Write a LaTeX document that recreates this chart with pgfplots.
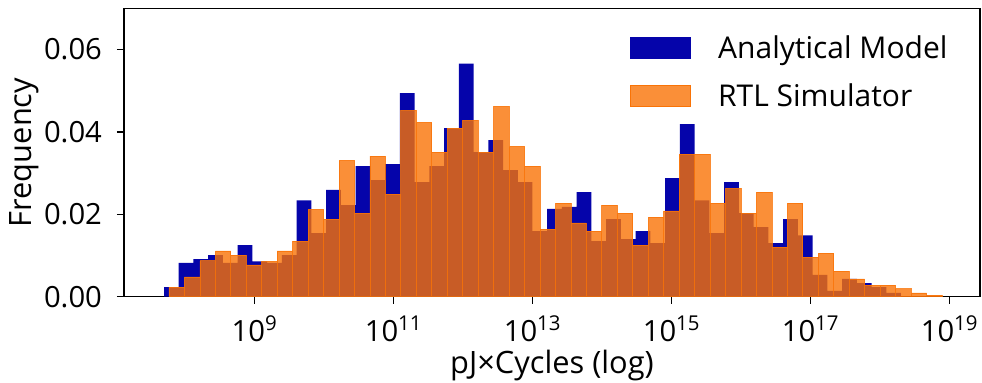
\documentclass[border=0pt]{standalone}
\usepackage{pgfplots}
\pgfplotsset{compat=1.18}
\usepackage{fontspec}
\setmainfont{Open Sans}
\definecolor{blu}{HTML}{0504AA}
\definecolor{orng}{HTML}{F97306}
\begin{document}
\begin{tikzpicture}
\path[use as bounding box] (-62pt,-43.15pt) rectangle (429pt,148.35pt);
\begin{axis}[
  at={(0pt,0pt)}, anchor=south west,
  width=428pt, height=144.2pt, scale only axis,
  xmin=7.1194, xmax=19.436, ymin=0, ymax=0.07,
  axis line style={line width=0.7pt},
  tick align=outside, major tick length=3.5pt,
  tick style={line width=0.7pt, black},
  xtick pos=left, ytick pos=left,
  xtick={9,11,13,15,17,19},
  xticklabels={10\textsuperscript{9},10\textsuperscript{11},10\textsuperscript{13},10\textsuperscript{15},10\textsuperscript{17},10\textsuperscript{19}},
  ytick={0,0.02,0.04,0.06},
  scaled y ticks=false,
  /pgf/number format/assume math mode=true,
  yticklabel style={/pgf/number format/.cd, fixed, fixed zerofill, precision=2, /tikz/.cd, anchor=east, inner sep=0pt, xshift=-7.35pt},
  xticklabel style={anchor=base, inner sep=0pt, yshift=-18.8pt},
  ticklabel style={font=\fontsize{14.6}{17}\selectfont},
  xlabel={pJ×Cycles (log)},
  ylabel={Frequency},
  xlabel style={at={(axis description cs:0.5,0)}, anchor=base, yshift=-38.2pt, font=\fontsize{15.4}{18}\selectfont},
  ylabel style={at={(axis description cs:-0.1075,0.5)}, anchor=base, rotate=0, font=\fontsize{15.4}{18}\selectfont},
  legend style={draw=none, fill=none, at={(0.5911,0.9012)}, anchor=north west, inner sep=0pt, row sep=12.8pt, column sep=13.5pt, font=\fontsize{15}{18}\selectfont, nodes={inner sep=0pt, text height=10.7pt, text depth=0pt}},
  legend cell align=left,
]
\addplot[ybar interval, fill=blu, draw=none, forget plot] coordinates {
(7.6950,0.0023) (7.9071,0.0082) (8.1191,0.0091) (8.3312,0.0101) (8.5433,0.0082)
(8.7554,0.0125) (8.9675,0.0086) (9.1796,0.0082) (9.3917,0.0101) (9.6037,0.0234)
(9.8158,0.0154) (10.0279,0.0259) (10.2400,0.0222) (10.4521,0.0317) (10.6642,0.0283)
(10.8763,0.0322) (11.0883,0.0494) (11.3004,0.0278) (11.5125,0.0317) (11.7246,0.0409)
(11.9367,0.0566) (12.1488,0.0351) (12.3609,0.0380) (12.5729,0.0307) (12.7850,0.0278)
(12.9971,0.0159) (13.2092,0.0213) (13.4213,0.0218) (13.6334,0.0254) (13.8455,0.0135)
(14.0575,0.0188) (14.2696,0.0140) (14.4817,0.0159) (14.6938,0.0130) (14.9059,0.0288)
(15.1180,0.0419) (15.3301,0.0234) (15.5421,0.0154) (15.7542,0.0278) (15.9663,0.0203)
(16.1784,0.0169) (16.3905,0.0130) (16.6026,0.0188) (16.8147,0.0149) (17.0267,0.0053)
(17.2388,0.0014) (17.4509,0.0043) (17.6630,0.0033) (17.8751,0.0023) (18.0872,0.0009)
(18.2993,0.0009)
};
\addplot[ybar interval, fill=orng, fill opacity=0.8, draw=orng, draw opacity=0.8, line width=0.4pt, forget plot] coordinates {
(7.7669,0.0023) (7.9894,0.0048) (8.2118,0.0087) (8.4343,0.0111) (8.6567,0.0101)
(8.8791,0.0077) (9.1016,0.0086) (9.3240,0.0111) (9.5465,0.0135) (9.7689,0.0212)
(9.9914,0.0188) (10.2138,0.0331) (10.4363,0.0203) (10.6587,0.0341) (10.8812,0.0249)
(11.1036,0.0452) (11.3260,0.0423) (11.5485,0.0351) (11.7709,0.0409) (11.9934,0.0428)
(12.2158,0.0351) (12.4383,0.0462) (12.6607,0.0365) (12.8832,0.0317) (13.1056,0.0164)
(13.3281,0.0227) (13.5505,0.0179) (13.7730,0.0159) (13.9954,0.0222) (14.2178,0.0203)
(14.4403,0.0125) (14.6627,0.0193) (14.8852,0.0208) (15.1076,0.0346) (15.3301,0.0346)
(15.5525,0.0227) (15.7750,0.0263) (15.9974,0.0203) (16.2199,0.0254) (16.4423,0.0120)
(16.6648,0.0227) (16.8872,0.0096) (17.1096,0.0106) (17.3321,0.0062) (17.5545,0.0043)
(17.7770,0.0028) (17.9994,0.0028) (18.2219,0.0019) (18.4443,0.0009) (18.6668,0.0004)
(18.8892,0.0004)
};
\addlegendimage{legend image code/.code={\fill[blu] (0pt,-5.25pt) rectangle (30pt,5.25pt);}}
\addlegendentry{Analytical Model}
\addlegendimage{legend image code/.code={\fill[orng, fill opacity=0.8] (0pt,-5.25pt) rectangle (30pt,5.25pt);}}
\addlegendentry{RTL Simulator}
\end{axis}
\end{tikzpicture}
\end{document}
